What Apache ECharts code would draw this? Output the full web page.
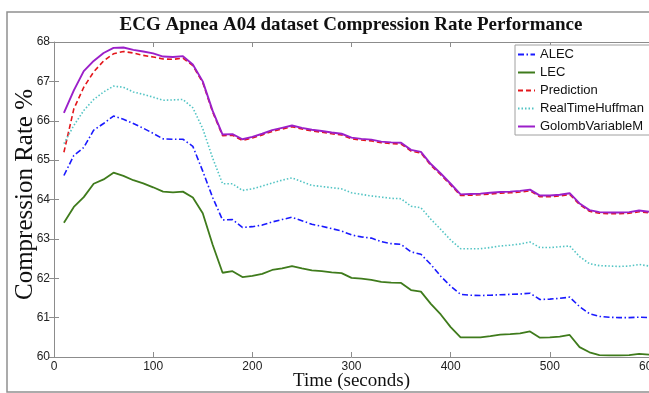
<!DOCTYPE html>
<html>
<head>
<meta charset="utf-8">
<script src="https://cdn.jsdelivr.net/npm/echarts@6/dist/echarts.min.js"></script>
<style>
html,body{margin:0;padding:0;background:#fff;}
#chart{width:649px;height:393px;}
</style>
</head>
<body>
<div id="chart"></div>
<script>
// Time (seconds)
const times = [10,20,30,40,50,60,70,80,90,100,110,120,130,140,150,160,170,180,190,200,
  210,220,230,240,250,260,270,280,290,300,310,320,330,340,350,360,370,380,390,400,
  410,420,430,440,450,460,470,480,490,500,510,520,530,540,550,560,570,580,590,600];

const seriesNames = ['ALEC','LEC','Prediction','RealTimeHuffman','GolombVariableM'];

const alec = [64.61,65.12,65.32,65.76,65.93,66.12,66.04,65.93,65.81,65.68,65.54,65.53,65.53,65.35,64.72,64.05,63.48,63.49,63.29,63.31,
  63.35,63.43,63.49,63.55,63.46,63.37,63.32,63.26,63.20,63.10,63.05,63.02,62.93,62.88,62.86,62.67,62.61,62.35,62.05,61.80,
  61.59,61.57,61.56,61.57,61.58,61.59,61.60,61.62,61.46,61.47,61.49,61.52,61.28,61.10,61.03,61.01,61.00,61.00,61.01,61.00];

const lec = [63.41,63.81,64.06,64.40,64.51,64.68,64.60,64.49,64.41,64.31,64.20,64.18,64.20,64.05,63.65,62.85,62.14,62.18,62.03,62.06,
  62.11,62.21,62.25,62.31,62.25,62.20,62.18,62.15,62.13,62.01,61.99,61.96,61.91,61.89,61.88,61.70,61.66,61.35,61.08,60.76,
  60.50,60.50,60.50,60.53,60.57,60.58,60.60,60.65,60.49,60.50,60.52,60.56,60.25,60.12,60.05,60.04,60.04,60.05,60.08,60.06];

const prediction = [65.20,66.30,66.85,67.24,67.52,67.70,67.76,67.72,67.66,67.62,67.57,67.56,67.59,67.40,66.97,66.22,65.62,65.63,65.50,65.56,
  65.64,65.73,65.79,65.85,65.79,65.74,65.71,65.67,65.64,65.54,65.51,65.49,65.44,65.42,65.41,65.23,65.18,64.87,64.63,64.37,
  64.10,64.11,64.12,64.14,64.16,64.17,64.19,64.22,64.07,64.07,64.09,64.13,63.87,63.70,63.65,63.64,63.64,63.65,63.69,63.66];

const realTimeHuffman = [65.42,65.88,66.26,66.54,66.73,66.88,66.85,66.73,66.67,66.60,66.52,66.53,66.54,66.33,65.80,65.05,64.40,64.40,64.23,64.27,
  64.34,64.42,64.49,64.55,64.45,64.36,64.33,64.30,64.27,64.17,64.13,64.09,64.06,64.03,64.02,63.83,63.79,63.50,63.24,62.97,
  62.75,62.75,62.75,62.78,62.82,62.84,62.87,62.92,62.78,62.78,62.80,62.82,62.55,62.37,62.32,62.31,62.30,62.31,62.35,62.31];

const golombVariableM = [66.20,66.77,67.26,67.52,67.72,67.85,67.86,67.80,67.76,67.71,67.63,67.62,67.64,67.43,67.00,66.25,65.65,65.66,65.53,65.59,
  65.67,65.76,65.82,65.88,65.82,65.77,65.74,65.70,65.67,65.57,65.54,65.52,65.47,65.45,65.44,65.26,65.21,64.90,64.66,64.40,
  64.13,64.14,64.15,64.17,64.19,64.20,64.22,64.25,64.10,64.10,64.12,64.16,63.90,63.73,63.68,63.67,63.67,63.68,63.72,63.69];

const xTicks = {min:0, max:600, interval:100};
const yTicks = {min:60, max:68, interval:1};

const valueSets = [alec, lec, prediction, realTimeHuffman, golombVariableM];
const styles = [
  {color:'#1a1aff', width:1.6, type:[6,2.5,1.5,2.5]},
  {color:'#3f7b1c', width:1.8, type:'solid'},
  {color:'#e3161b', width:1.6, type:[5,3]},
  {color:'#52c4c4', width:1.6, type:[1.5,2]},
  {color:'#9b1fc9', width:1.9, type:'solid'}
];

const chart = echarts.init(document.getElementById('chart'), null, {renderer:'canvas'});
const axisColor = '#8c8c8c';
const labelFont = {color:'#222', fontFamily:'Liberation Sans, Arial, sans-serif', fontSize:12};

chart.setOption({
  animation:false,
  backgroundColor:'#fff',
  title:{
    text:'ECG Apnea A04 dataset Compression Rate Performance',
    left:346, top:11, textAlign:'center',
    textStyle:{fontFamily:'Liberation Serif, Times New Roman, serif', fontWeight:'bold', fontSize:19, color:'#111'}
  },
  graphic:[{
    type:'rect', shape:{x:7, y:12, width:700, height:380},
    style:{fill:'none', stroke:'#909090', lineWidth:1.5}, silent:true, z:-1
  }],
  legend:{
    orient:'vertical', left:515, top:45,
    padding:[3,6,2,2], itemGap:5, itemWidth:17, itemHeight:13,
    backgroundColor:'#fff', borderColor:'#a0a0a0', borderWidth:1,
    itemStyle:{color:'rgba(0,0,0,0)', borderWidth:0, opacity:0},
    textStyle:{fontFamily:'Liberation Sans, Arial, sans-serif', fontSize:13, color:'#111'},
    data:seriesNames
  },
  grid:{left:54, right:0, top:42, bottom:36, containLabel:false, outerBoundsMode:'none'},
  xAxis:[{
    type:'value', min:xTicks.min, max:xTicks.max, interval:xTicks.interval,
    name:'Time (seconds)', nameLocation:'middle', nameGap:15, nameMoveOverlap:false,
    nameTextStyle:{fontFamily:'Liberation Serif, Times New Roman, serif', fontSize:19, color:'#111', verticalAlign:'top'},
    axisLine:{lineStyle:{color:axisColor, width:1}},
    axisTick:{inside:true, length:5, lineStyle:{color:axisColor}},
    axisLabel:Object.assign({margin:4}, labelFont),
    splitLine:{show:false}
  },{
    type:'value', position:'top', min:xTicks.min, max:xTicks.max, interval:xTicks.interval,
    axisLine:{lineStyle:{color:axisColor, width:1}},
    axisTick:{inside:true, length:5, lineStyle:{color:axisColor}},
    axisLabel:{show:false}, splitLine:{show:false}
  }],
  yAxis:[{
    type:'value', min:yTicks.min, max:yTicks.max, interval:yTicks.interval,
    name:'Compression Rate %', nameLocation:'middle', nameGap:16, nameMoveOverlap:false,
    nameTextStyle:{fontFamily:'Liberation Serif, Times New Roman, serif', fontSize:25, color:'#111', padding:[0,0,0,10]},
    axisLine:{lineStyle:{color:axisColor, width:1}},
    axisTick:{inside:true, length:5, lineStyle:{color:axisColor}},
    axisLabel:Object.assign({margin:4}, labelFont),
    splitLine:{show:false}
  },{
    type:'value', position:'right', min:yTicks.min, max:yTicks.max, interval:yTicks.interval,
    axisLine:{show:false},
    axisTick:{inside:true, length:5, lineStyle:{color:axisColor}},
    axisLabel:{show:false}, splitLine:{show:false}
  }],
  series: seriesNames.map((name, i) => ({
    name:name, type:'line', xAxisIndex:0, yAxisIndex:0,
    symbol:'none', smooth:false,
    data: times.map((t, k) => [t, valueSets[i][k]]),
    lineStyle:{color:styles[i].color, width:styles[i].width, type:styles[i].type},
    itemStyle:{color:styles[i].color},
    z: 2 + i
  }))
});
</script>
</body>
</html>
